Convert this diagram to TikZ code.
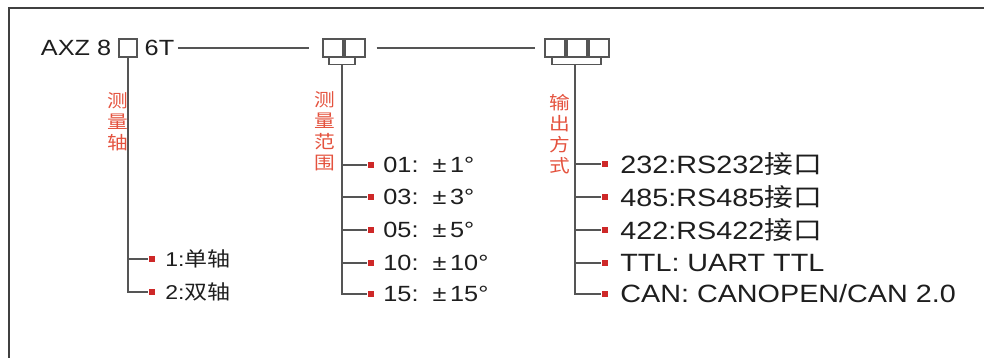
\documentclass[tikz,border=0pt]{standalone}
\usepackage{fontspec}
\setmainfont{Liberation Sans}[FakeStretch=1.15]
\newfontfamily\cjk{Noto Sans CJK SC}[FakeStretch=1.15]
\usetikzlibrary{positioning,calc}

\definecolor{linegray}{RGB}{85,85,85}
\definecolor{labelred}{RGB}{228,82,62}
\definecolor{dotred}{RGB}{206,40,40}
\definecolor{textblack}{RGB}{30,30,30}

\tikzset{
  slot/.style={draw=linegray, line width=1.3pt, minimum width=20pt,
    minimum height=18pt, inner sep=0pt},
  reddot/.style={fill=dotred, minimum size=6pt, inner sep=0pt},
  vlabel/.style={text=labelred, align=center, inner sep=0pt,
    font=\cjk\fontsize{18}{21}\selectfont},
  entry/.style={text=textblack, inner sep=0pt, anchor=west},
  leftentry/.style={entry, font=\fontsize{20}{24}\selectfont},
  rangeentry/.style={entry, font=\fontsize{22}{26}\selectfont},
  outentry/.style={entry, font=\fontsize{25}{29}\selectfont}
}

\begin{document}
\begin{tikzpicture}[x=1pt, y=-1pt, line width=1.4pt, draw=linegray]

\useasboundingbox (0,0) rectangle (984,358);

% Frame
\draw[line width=2pt, draw=black!75] (9,358) -- (9,8) -- (984,8);

% Model code
\node[text=textblack, inner sep=0pt, anchor=east,
  font=\fontsize{22}{26}\selectfont] (axz) at (112,48) {AXZ 8};
\node[slot, minimum width=18pt] (s1) at (128,48) {};
\node[text=textblack, inner sep=0pt, anchor=west,
  font=\fontsize{22}{26}\selectfont] (six) at (144,48) {6T};

% Slots for range and output
\node[slot] (r1) at (333,48) {};
\node[slot] (r2) at (355,48) {};
\node[slot] (o1) at (555,48) {};
\node[slot] (o2) at (577,48) {};
\node[slot] (o3) at (599,48) {};

% Joining lines
\draw[shorten <=3pt, shorten >=13pt] (six.east) -- (r1.west);
\draw[shorten <=11pt, shorten >=9pt] (r2.east) -- (o1.west);

% Brackets under the slots
\draw[line width=1.3pt] ([xshift=-4pt]r1.south) -- ++(0,7) -| (r2.south);
\coordinate (rj) at ($(r1.south)!0.4!(r2.south)+(0,7)$);
\draw[line width=1.3pt] ([xshift=-3pt]o1.south) -- ++(0,7) -| ([xshift=2pt]o3.south);
\coordinate (oj) at ($(o2.south)+(-2,7)$);

% Measuring axis
\node[vlabel] (axislbl) at (118,122) {测\\量\\轴};
\node[reddot] (a1) at (152,259) {};
\node[reddot] (a2) at (152,292) {};
\node[leftentry, right=9pt of a1] (a1t) {1:{\cjk 单轴}};
\node[leftentry, right=9pt of a2] (a2t) {2:{\cjk 双轴}};
\draw (s1.south) |- (a1);
\draw (s1.south) |- (a2);

% Measuring range
\node[vlabel] (rangelbl) at (325,131) {测\\量\\范\\围};
\node[reddot] (b1) at (371,165) {};
\node[reddot] (b2) at (371,197) {};
\node[reddot] (b3) at (371,230) {};
\node[reddot] (b4) at (371,263) {};
\node[reddot] (b5) at (371,294) {};
\node[rangeentry, right=8pt of b1] (b1t) {01:\ \ ±\,1°};
\node[rangeentry, right=8pt of b2] (b2t) {03:\ \ ±\,3°};
\node[rangeentry, right=8pt of b3] (b3t) {05:\ \ ±\,5°};
\node[rangeentry, right=8pt of b4] (b4t) {10:\ \ ±\,10°};
\node[rangeentry, right=8pt of b5] (b5t) {15:\ \ ±\,15°};
\draw (rj) |- (b1);
\draw (rj) |- (b2);
\draw (rj) |- (b3);
\draw (rj) |- (b4);
\draw (rj) |- (b5);

% Output mode
\node[vlabel] (outlbl) at (560,134) {输\\出\\方\\式};
\node[reddot] (c1) at (605,164) {};
\node[reddot] (c2) at (605,197) {};
\node[reddot] (c3) at (605,230) {};
\node[reddot] (c4) at (605,263) {};
\node[reddot] (c5) at (605,294) {};
\node[outentry, right=11pt of c1] (c1t) {232:RS232{\cjk 接口}};
\node[outentry, right=11pt of c2] (c2t) {485:RS485{\cjk 接口}};
\node[outentry, right=11pt of c3] (c3t) {422:RS422{\cjk 接口}};
\node[outentry, right=11pt of c4] (c4t) {TTL: UART TTL};
\node[outentry, right=11pt of c5] (c5t) {CAN: CANOPEN/CAN 2.0};
\draw (oj) |- (c1);
\draw (oj) |- (c2);
\draw (oj) |- (c3);
\draw (oj) |- (c4);
\draw (oj) |- (c5);

\end{tikzpicture}
\end{document}
